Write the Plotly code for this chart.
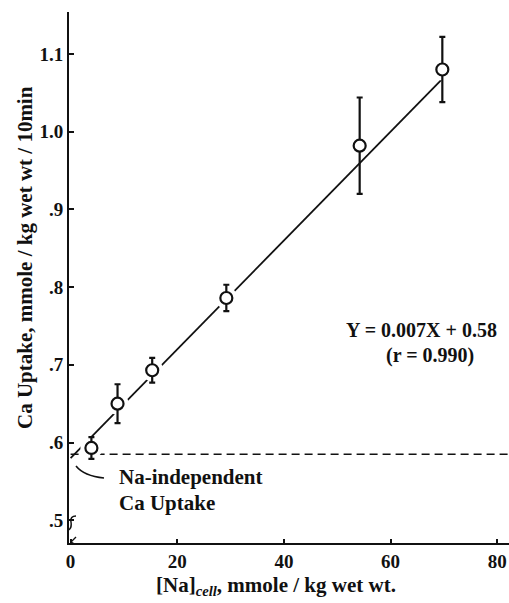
import plotly.graph_objects as go

# Measured Ca uptake vs. cellular Na
na_cell = [3.9, 8.8, 15.3, 29.2, 54.2, 69.7]
ca_uptake = [0.593, 0.650, 0.693, 0.786, 0.982, 1.080]
ca_err = [0.014, 0.025, 0.016, 0.017, 0.062, 0.042]

# Regression line Y = slope*X + intercept
slope = 0.007
intercept = 0.58
fit_x = [0, 69.7]

# Na-independent baseline level
baseline = 0.585
baseline_x = [0, 82.2]

x_ticks = [0, 20, 40, 60, 80]
x_ticktext = ["0", "20", "40", "60", "80"]
y_ticks = [0.5, 0.6, 0.7, 0.8, 0.9, 1.0, 1.1]
y_ticktext = [".5", ".6", ".7", ".8", ".9", "1.0", "1.1"]

W, H = 509, 603
L, R, T, B = 69, 0, 12, 60
X_RANGE = [-0.3, 82.2]
Y_RANGE = [0.4707, 1.154]
FONT = "Liberation Serif"
INK = "#111111"

def pxp(x):
    return (x - L) / (W - L - R)

def pyp(y):
    return (H - B - y) / (H - T - B)

def dx(x):
    return X_RANGE[0] + (x - L) / (W - L - R) * (X_RANGE[1] - X_RANGE[0])

def dy(y):
    return Y_RANGE[0] + (H - B - y) / (H - T - B) * (Y_RANGE[1] - Y_RANGE[0])

fig = go.Figure()

fig.add_trace(go.Scatter(
    x=baseline_x, y=[baseline, baseline], mode="lines",
    line=dict(color=INK, width=1.4, dash="8px,5px"), hoverinfo="skip"))

fig.add_trace(go.Scatter(
    x=fit_x, y=[slope * v + intercept for v in fit_x], mode="lines",
    line=dict(color=INK, width=1.8), hoverinfo="skip"))

# white halos so the fit line stops short of each circle
fig.add_trace(go.Scatter(
    x=na_cell, y=ca_uptake, mode="markers",
    marker=dict(size=22, color="white", line=dict(width=0)), hoverinfo="skip"))

fig.add_trace(go.Scatter(
    x=na_cell, y=ca_uptake, mode="markers",
    marker=dict(symbol="circle", size=12, color="white",
                line=dict(color=INK, width=2.2)),
    error_y=dict(type="data", array=ca_err, visible=True,
                 color=INK, thickness=2.2, width=3)))

tick_font = dict(family=FONT, size=19, color=INK, weight="bold")

fig.update_layout(
    width=W, height=H, showlegend=False,
    margin=dict(l=L, r=R, t=T, b=B),
    paper_bgcolor="white", plot_bgcolor="white",
    font=dict(family=FONT, color=INK, size=19),
    xaxis=dict(range=X_RANGE, showgrid=False, zeroline=False,
               showline=True, linecolor=INK, linewidth=2,
               ticks="inside", ticklen=4, tickwidth=1.5, tickcolor=INK,
               tickvals=x_ticks, ticktext=x_ticktext, tickfont=tick_font),
    yaxis=dict(range=Y_RANGE, showgrid=False, zeroline=False,
               showline=True, linecolor=INK, linewidth=2,
               ticks="inside", ticklen=5, tickwidth=1.5, tickcolor=INK,
               tickvals=y_ticks, ticktext=y_ticktext, tickfont=tick_font),
)

annotations = [
    dict(x=pxp(276), y=pyp(586), text="[Na]<sub><i>cell</i></sub>, mmole / kg wet wt."),
    dict(x=pxp(25), y=pyp(258), text="Ca Uptake, mmole / kg wet wt / 10min",
         textangle=-90),
    dict(x=pxp(421), y=pyp(330), text="Y = 0.007X + 0.58", size=20),
    dict(x=pxp(430), y=pyp(355), text="(r = 0.990)", size=20),
    dict(x=pxp(117), y=pyp(477), text="Na-independent", xanchor="left"),
    dict(x=pxp(117), y=pyp(503), text="Ca Uptake", xanchor="left"),
]
for a in annotations:
    size = a.pop("size", 21)
    a.update(xref="paper", yref="paper", showarrow=False, yanchor="middle")
    a.setdefault("xanchor", "center")
    a["font"] = dict(family=FONT, color=INK, size=size, weight="bold")
fig.update_layout(annotations=annotations)

# arrowhead at the baseline intercept
fig.add_annotation(x=dx(74), y=dy(461), ax=3, ay=7, xref="x", yref="y",
                   text=" ", showarrow=True, arrowhead=2, arrowsize=1,
                   arrowwidth=1.5, arrowcolor=INK)

shapes = [
    # curved pointer from the label to the axis
    dict(type="path",
         path=f"M {dx(104)},{dy(478)} Q {dx(84)},{dy(476)} {dx(76)},{dy(466)}",
         line=dict(color=INK, width=1.6)),
    # break mark on the y axis
    dict(type="path",
         path=(f"M {dx(76)},{dy(516)} Q {dx(70)},{dy(516)} {dx(71)},{dy(522)}"
               f" Q {dx(72)},{dy(529)} {dx(68)},{dy(530)}"),
         line=dict(color=INK, width=1.5)),
    # break mark at the x axis origin
    dict(type="path",
         path=f"M {dx(76)},{dy(537)} L {dx(71)},{dy(542)} L {dx(76)},{dy(545)}",
         line=dict(color=INK, width=1.4)),
]
for s in shapes:
    s.update(xref="x", yref="y")
fig.update_layout(shapes=shapes)

fig.write_html("out.html")
